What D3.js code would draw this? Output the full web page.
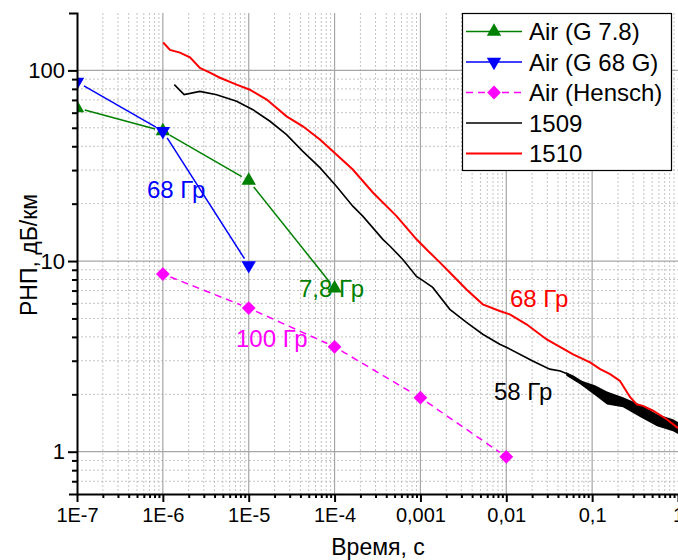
<!DOCTYPE html>
<html>
<head>
<meta charset="utf-8">
<script src="https://cdn.jsdelivr.net/npm/d3@7"></script>
<style>
  body { margin: 0; background: #fff; }
  text { font-family: "Liberation Sans", Arial, sans-serif; }
</style>
</head>
<body>
<div id="chart"></div>
<script>
// ---------------- data ---------------- //
// Air (G 7.8)
var greenTime = [1e-7, 1e-6, 1e-5, 1e-4];
var greenVal = [63.5, 48, 26.4, 7.2];
// Air (G 68 G)
var blueTime = [1e-7, 1e-6, 1e-5];
var blueVal = [87, 48, 9.5];
// Air (Hensch)
var magTime = [1e-6, 1e-5, 1e-4, 0.001, 0.01];
var magVal = [8.55, 5.67, 3.55, 1.92, 0.94];
// 1509
var blackTime = [1.36e-6, 1.77e-6, 2.7e-6, 4.23e-6, 7.23e-6, 1.12e-5, 1.77e-5, 2.76e-5, 4.27e-5, 6.75e-5,
  1.05e-4, 1.63e-4, 2.13e-4, 3.65e-4, 4.4e-4, 6.24e-4, 9.0e-4, 1.07e-3, 1.39e-3, 2.2e-3,
  3.44e-3, 5.32e-3, 8.39e-3, 1.0e-2, 2.03e-2, 3.21e-2, 4.26e-2, 0.060, 0.078, 0.108,
  0.149, 0.229, 0.361, 0.570, 0.875, 1.0];
var blackVal = [84.2, 74.6, 77.6, 74.6, 68.8, 62.2, 54.1, 46.0, 37.6, 30.9,
  24.7, 19.4, 17.2, 13.0, 12.0, 10.2, 8.3, 7.9, 7.27, 5.58,
  4.77, 4.13, 3.66, 3.53, 2.99, 2.71, 2.65, 2.49, 2.31, 2.10,
  1.92, 1.82, 1.64, 1.46, 1.38, 1.33];
// 1509 noisy tail (lower / upper envelope)
var noiseTime = [0.05, 0.0723, 0.108, 0.149, 0.229, 0.361, 0.570, 0.875, 1.0];
var noiseLow = [2.50, 2.26, 1.98, 1.77, 1.71, 1.52, 1.36, 1.28, 1.24];
var noiseHigh = [2.62, 2.37, 2.23, 2.07, 1.93, 1.77, 1.57, 1.48, 1.43];
// 1510
var redTime = [1.01e-6, 1.21e-6, 1.58e-6, 2.07e-6, 2.70e-6, 3.53e-6, 4.62e-6, 7.23e-6, 1.03e-5, 1.62e-5,
  2.76e-5, 4.27e-5, 6.75e-5, 1.05e-4, 1.63e-4, 2.79e-4, 5.27e-4, 9.0e-4, 1.18e-3, 1.68e-3,
  2.2e-3, 3.44e-3, 5.32e-3, 8.39e-3, 1.10e-2, 1.72e-2, 2.96e-2, 0.060, 0.0946, 0.124,
  0.162, 0.211, 0.277, 0.331, 0.392, 0.512, 0.739, 1.0];
var redVal = [140, 128, 124, 117, 103, 97.3, 91.5, 84.2, 79.2, 70.3,
  57.4, 50.9, 43.4, 36.2, 30.2, 22.9, 17.2, 13.0, 11.5, 9.84,
  8.71, 7.10, 5.93, 5.47, 5.25, 4.66, 3.88, 3.24, 2.94, 2.71,
  2.55, 2.35, 1.93, 1.77, 1.74, 1.64, 1.48, 1.33];

var xTicks = [1e-7, 1e-6, 1e-5, 1e-4, 0.001, 0.01, 0.1, 1];
var xTickLabels = ["1E-7", "1E-6", "1E-5", "1E-4", "0,001", "0,01", "0,1", "1"];
var yTicks = [1, 10, 100];
var yTickLabels = ["1", "10", "100"];
var legendNames = ["Air (G 7.8)", "Air (G 68 G)", "Air (Hensch)", "1509", "1510"];
var noteTexts = ["68 Гр", "7,8 Гр", "100 Гр", "68 Гр", "58 Гр"];

// ---------------- layout ---------------- //
var svgWidth = 678;
var svgHeight = 560;
var plot = { left: 77, right: 678, top: 13, bottom: 494 };

var svg = d3.select("#chart")
  .append("svg")
  .attr("width", svgWidth)
  .attr("height", svgHeight);

var x = d3.scaleLog().domain([1e-7, 1]).range([plot.left, plot.right]);
var y = d3.scaleLog().domain([0.6, 200]).range([plot.bottom, plot.top]);

// minor tick values (2..9 of every decade)
var xMinor = [];
for (var e = -7; e < 0; e++) {
  for (var m = 2; m <= 9; m++) xMinor.push(m * Math.pow(10, e));
}
var yMinor = [0.7, 0.8, 0.9];
for (var e2 = 0; e2 < 2; e2++) {
  for (var m2 = 2; m2 <= 9; m2++) yMinor.push(m2 * Math.pow(10, e2));
}

// ---------------- grid ---------------- //
var grid = svg.append("g");
grid.selectAll(".xminor").data(xMinor).enter().append("line")
  .attr("x1", d => x(d)).attr("x2", d => x(d))
  .attr("y1", plot.top).attr("y2", plot.bottom)
  .attr("stroke", "#c4c4c4").attr("stroke-dasharray", "2,2");
grid.selectAll(".yminor").data(yMinor).enter().append("line")
  .attr("x1", plot.left).attr("x2", plot.right)
  .attr("y1", d => y(d)).attr("y2", d => y(d))
  .attr("stroke", "#c4c4c4").attr("stroke-dasharray", "2,2");
grid.selectAll(".xmajor").data(xTicks.slice(1, -1)).enter().append("line")
  .attr("x1", d => x(d)).attr("x2", d => x(d))
  .attr("y1", plot.top).attr("y2", plot.bottom)
  .attr("stroke", "#a6a6a6").attr("stroke-width", 1.2);
grid.selectAll(".ymajor").data(yTicks).enter().append("line")
  .attr("x1", plot.left).attr("x2", plot.right)
  .attr("y1", d => y(d)).attr("y2", d => y(d))
  .attr("stroke", "#a6a6a6").attr("stroke-width", 1.2);

// ---------------- annotations (under the markers) ---------------- //
var noteStyle = [
  { px: 147, py: 198, color: "#0000ff" },
  { px: 299, py: 297, color: "#008000" },
  { px: 236, py: 347, color: "#ff00ff" },
  { px: 510, py: 307, color: "#ff0000" },
  { px: 494, py: 400, color: "#000000" }
];
svg.append("g").selectAll("text").data(noteTexts).enter().append("text")
  .attr("x", (d, i) => noteStyle[i].px)
  .attr("y", (d, i) => noteStyle[i].py)
  .attr("fill", (d, i) => noteStyle[i].color)
  .attr("font-size", 24)
  .text(d => d);

// ---------------- series ---------------- //
svg.append("clipPath").attr("id", "clip")
  .append("rect")
  .attr("x", plot.left).attr("y", plot.top)
  .attr("width", plot.right - plot.left).attr("height", plot.bottom - plot.top);
var seriesGroup = svg.append("g").attr("clip-path", "url(#clip)");

function zip(ts, vs) {
  return ts.map((t, i) => ({ t: t, v: vs[i] }));
}

var line = d3.line().x(d => x(d.t)).y(d => y(d.v));

// black noisy tail
seriesGroup.append("path")
  .datum(zip(noiseTime, noiseLow).map((d, i) => ({ t: d.t, lo: d.v, hi: noiseHigh[i] })))
  .attr("fill", "#000")
  .attr("d", d3.area().x(d => x(d.t)).y0(d => y(d.lo)).y1(d => y(d.hi)));

seriesGroup.append("path")
  .datum(zip(blackTime, blackVal))
  .attr("fill", "none").attr("stroke", "#000").attr("stroke-width", 1.6)
  .attr("d", line);

// Origin style: line segments stop short of the markers
function markerSeries(ts, vs, color, dash, symbol, rot) {
  var pts = zip(ts, vs).map(d => [x(d.t), y(d.v)]);
  var gap = 8;
  for (var i = 0; i < pts.length - 1; i++) {
    var a = pts[i], b = pts[i + 1];
    var len = Math.hypot(b[0] - a[0], b[1] - a[1]);
    var ux = (b[0] - a[0]) / len, uy = (b[1] - a[1]) / len;
    seriesGroup.append("line")
      .attr("x1", a[0] + ux * gap).attr("y1", a[1] + uy * gap)
      .attr("x2", b[0] - ux * gap).attr("y2", b[1] - uy * gap)
      .attr("stroke", color).attr("stroke-width", 1.5)
      .attr("stroke-dasharray", dash);
  }
  seriesGroup.selectAll(null).data(pts).enter().append("path")
    .attr("transform", d => `translate(${d[0]},${d[1]}) rotate(${rot})`)
    .attr("d", d3.symbol().type(symbol).size(symbol === d3.symbolSquare ? 95 : 90))
    .attr("fill", color);
}
markerSeries(greenTime, greenVal, "#008000", null, d3.symbolTriangle, 0);
markerSeries(blueTime, blueVal, "#0000ff", null, d3.symbolTriangle, 180);
markerSeries(magTime, magVal, "#ff00ff", "7,5", d3.symbolSquare, 45);

seriesGroup.append("path")
  .datum(zip(redTime, redVal))
  .attr("fill", "none").attr("stroke", "#ff0000").attr("stroke-width", 2)
  .attr("d", line);

// ---------------- axes ---------------- //
var xAxis = svg.append("g")
  .attr("transform", `translate(0, ${plot.bottom})`)
  .call(d3.axisBottom(x).tickValues(xTicks).tickSize(8).tickSizeOuter(0)
    .tickFormat((d, i) => xTickLabels[i]));
svg.append("g")
  .attr("transform", `translate(0, ${plot.bottom})`)
  .call(d3.axisBottom(x).tickValues(xMinor).tickSize(4).tickSizeOuter(0).tickFormat(""))
  .call(g => g.select(".domain").remove());
xAxis.selectAll(".tick text")
  .attr("y", 14)
  .attr("dy", "0.71em")
  .attr("font-size", 20)
  .attr("font-family", "Liberation Sans, Arial, sans-serif");

var yAxis = svg.append("g")
  .attr("transform", `translate(${plot.left}, 0)`)
  .call(d3.axisLeft(y).tickValues(yTicks).tickSize(9).tickSizeOuter(8)
    .tickFormat((d, i) => yTickLabels[i]));
svg.append("g")
  .attr("transform", `translate(${plot.left}, 0)`)
  .call(d3.axisLeft(y).tickValues(yMinor).tickSize(5).tickSizeOuter(0).tickFormat(""))
  .call(g => g.select(".domain").remove());
yAxis.selectAll(".tick text")
  .attr("x", -12)
  .attr("font-size", 22)
  .attr("font-family", "Liberation Sans, Arial, sans-serif");

svg.selectAll(".domain, .tick line")
  .attr("stroke", "#000")
  .attr("stroke-width", 2);

// axis titles
svg.append("text")
  .attr("x", 378).attr("y", 555)
  .attr("text-anchor", "middle")
  .attr("font-size", 23)
  .text("Время, с");
svg.append("text")
  .attr("transform", "translate(37, 255) rotate(-90)")
  .attr("text-anchor", "middle")
  .attr("font-size", 23)
  .text("РНП, дБ/км");

// ---------------- legend ---------------- //
var legend = svg.append("g");
legend.append("rect")
  .attr("x", 462.5).attr("y", 13.5)
  .attr("width", 209).attr("height", 157)
  .attr("fill", "#fff").attr("stroke", "#000").attr("stroke-width", 1.2);

var legendColors = ["#008000", "#0000ff", "#ff00ff", "#000000", "#ff0000"];
var legendDash = [null, null, "7,5", null, null];
var legendSymbol = [d3.symbolTriangle, d3.symbolTriangle, d3.symbolSquare, null, null];
var legendRot = [0, 180, 45, 0, 0];

var rows = legend.selectAll(".row").data(legendNames).enter().append("g")
  .attr("transform", (d, i) => `translate(0, ${31.5 + i * 30.5})`);
rows.append("line")
  .attr("x1", 466).attr("x2", 522)
  .attr("stroke", (d, i) => legendColors[i])
  .attr("stroke-width", (d, i) => i === 4 ? 2 : 1.5)
  .attr("stroke-dasharray", (d, i) => legendDash[i]);
rows.filter((d, i) => legendSymbol[i] !== null).append("path")
  .attr("transform", (d, i) => `translate(494, 0) rotate(${legendRot[i]})`)
  .attr("d", (d, i) => d3.symbol().type(legendSymbol[i]).size(legendSymbol[i] === d3.symbolSquare ? 95 : 90)())
  .attr("fill", (d, i) => legendColors[i]);
rows.append("text")
  .attr("x", 529).attr("y", 8.5)
  .attr("font-size", 24)
  .text(d => d);
</script>
</body>
</html>
